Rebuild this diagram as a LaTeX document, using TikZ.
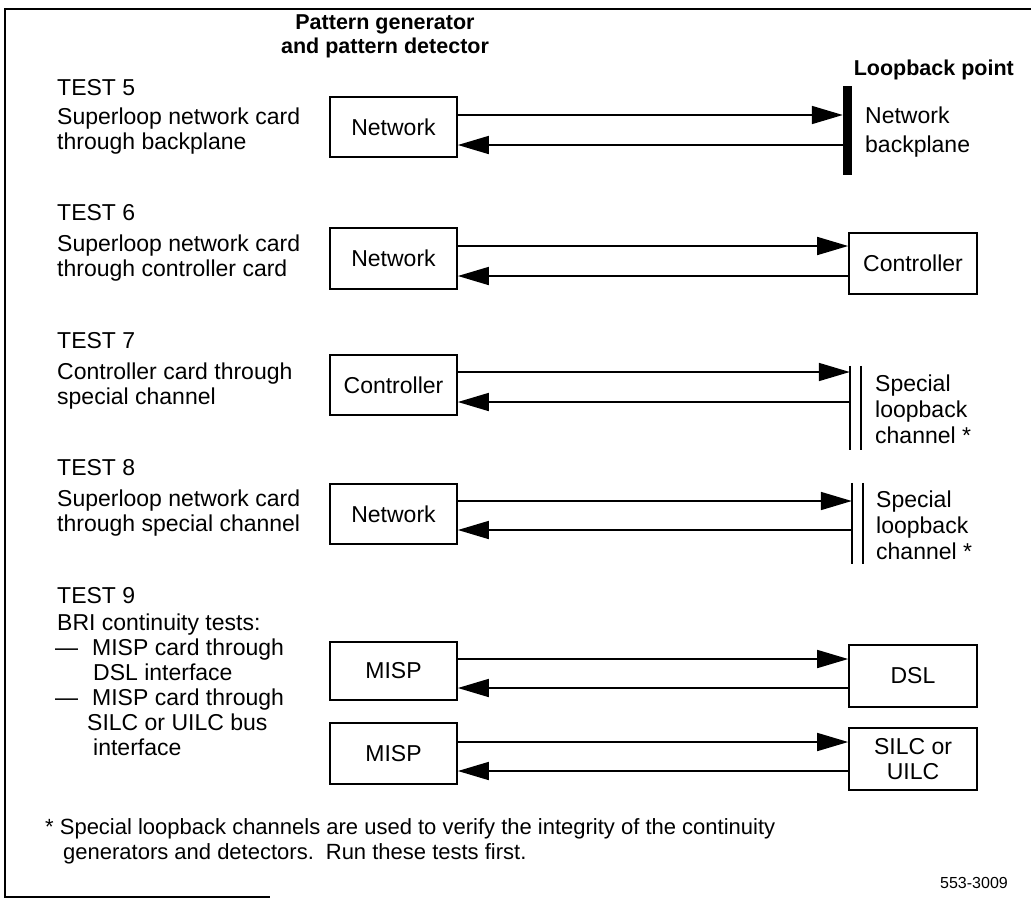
\documentclass[tikz,border=0pt]{standalone}
\usepackage{fontspec}
\setmainfont{Liberation Sans}
\usetikzlibrary{arrows.meta}
\begin{document}
\begin{tikzpicture}[x=1pt,y=-1pt,
  txt/.style={anchor=base west, inner sep=0pt, font=\fontsize{23}{25}\selectfont},
  hdr/.style={anchor=base, inner sep=0pt, font=\fontsize{21.5}{25}\selectfont\bfseries},
  card/.style={draw, line width=1.7pt, minimum width=127pt, inner sep=0pt, align=center, font=\fontsize{23}{25.5}\selectfont},
  sig/.style={line width=1.7pt, -{Triangle[length=31pt,width=18pt]}},
  edge/.style={line width=1.7pt},
  note/.style={anchor=base west, inner sep=0pt, font=\fontsize{22}{25}\selectfont},
]
\useasboundingbox (0,0) rectangle (1031,898);
\draw[line width=1.5pt] (1031,9) -- (5,9) -- (5,897) -- (270,897);

% headers
\node[hdr] (h1) at (385,29) {Pattern generator};
\node[hdr] (h2) at (385,53) {and pattern detector};
\node[hdr, anchor=base east] (h3) at (1014,75) {Loopback point};

% test labels
\node[txt] (t5a) at (57,95) {TEST 5};
\node[txt] (t5b) at (57,124) {Superloop network card};
\node[txt] (t5c) at (57,149) {through backplane};
\node[txt] (t6a) at (57,220) {TEST 6};
\node[txt] (t6b) at (57,251) {Superloop network card};
\node[txt] (t6c) at (57,276) {through controller card};
\node[txt] (t7a) at (57,348) {TEST 7};
\node[txt] (t7b) at (57,379) {Controller card through};
\node[txt] (t7c) at (57,404) {special channel};
\node[txt] (t8a) at (57,475) {TEST 8};
\node[txt] (t8b) at (57,506) {Superloop network card};
\node[txt] (t8c) at (57,531) {through special channel};
\node[txt] (t9a) at (57,603) {TEST 9};
\node[txt] (t9b) at (57,630) {BRI continuity tests:};
\node[txt] (t9c) at (55,655) {—\hspace{14pt}MISP card through};
\node[txt] (t9d) at (93,680) {DSL interface};
\node[txt] (t9e) at (55,705) {—\hspace{14pt}MISP card through};
\node[txt] (t9f) at (87,730) {SILC or UILC bus};
\node[txt] (t9g) at (93,755) {interface};

% left cards
\node[card, minimum height=60pt] (n5) at (393.5,127) {Network};
\node[card, minimum height=61pt] (n6) at (393.5,258.5) {Network};
\node[card, minimum height=60pt] (c7) at (393.5,385) {Controller};
\node[card, minimum height=60pt] (n8) at (393.5,514) {Network};
\node[card, minimum height=58pt] (m1) at (393.5,671) {MISP};
\node[card, minimum height=61pt] (m2) at (393.5,753.5) {MISP};

% right side
\node[fill, minimum width=9pt, minimum height=89pt, inner sep=0pt] (bar5) at (847.5,130.5) {};
\node[txt] (r5a) at (865,123) {Network};
\node[txt] (r5b) at (865,152) {backplane};
\node[card, minimum width=128pt, minimum height=61pt] (ctl6) at (913,263.5) {Controller};
\node[minimum width=11pt, minimum height=84pt, inner sep=0pt] (lb7) at (855.5,408) {};
\draw[edge] (lb7.north west) -- (lb7.south west);
\draw[edge] (lb7.north east) -- (lb7.south east);
\node[txt] (r7a) at (875,391) {Special};
\node[txt] (r7b) at (875,417) {loopback};
\node[txt] (r7c) at (875,443) {channel *};
\node[minimum width=11pt, minimum height=81pt, inner sep=0pt] (lb8) at (857.5,523.5) {};
\draw[edge] (lb8.north west) -- (lb8.south west);
\draw[edge] (lb8.north east) -- (lb8.south east);
\node[txt] (r8a) at (876,507) {Special};
\node[txt] (r8b) at (876,533) {loopback};
\node[txt] (r8c) at (876,559) {channel *};
\node[card, minimum width=128pt, minimum height=62pt] (dsl) at (913,676) {DSL};
\node[card, minimum width=128pt, minimum height=62pt] (silc) at (913,759) {SILC or\\UILC};

% connectors
\draw[sig] (n5.east |- 0,115) -- (bar5.west |- 0,115);
\draw[sig] (bar5.west |- 0,145) -- (n5.east |- 0,145);
\draw[sig] (n6.east |- 0,246) -- (ctl6.west |- 0,246);
\draw[sig] (ctl6.west |- 0,276) -- (n6.east |- 0,276);
\draw[sig] (c7.east |- 0,372) -- (lb7.west |- 0,372);
\draw[sig] (lb7.west |- 0,402) -- (c7.east |- 0,402);
\draw[sig] (n8.east |- 0,501) -- (lb8.west |- 0,501);
\draw[sig] (lb8.west |- 0,530) -- (n8.east |- 0,530);
\draw[sig] (m1.east |- 0,659) -- (dsl.west |- 0,659);
\draw[sig] (dsl.west |- 0,688) -- (m1.east |- 0,688);
\draw[sig] (m2.east |- 0,742) -- (silc.west |- 0,742);
\draw[sig] (silc.west |- 0,771) -- (m2.east |- 0,771);

% footnote
\node[note] (f1) at (45,834) {* Special loopback channels are used to verify the integrity of the continuity};
\node[note] (f2) at (63,859) {generators and detectors.\hspace{12pt}Run these tests first.};
\node[anchor=base east, inner sep=0pt, font=\fontsize{16}{18}\selectfont] (fig) at (1008,888) {553-3009};
\end{tikzpicture}
\end{document}
